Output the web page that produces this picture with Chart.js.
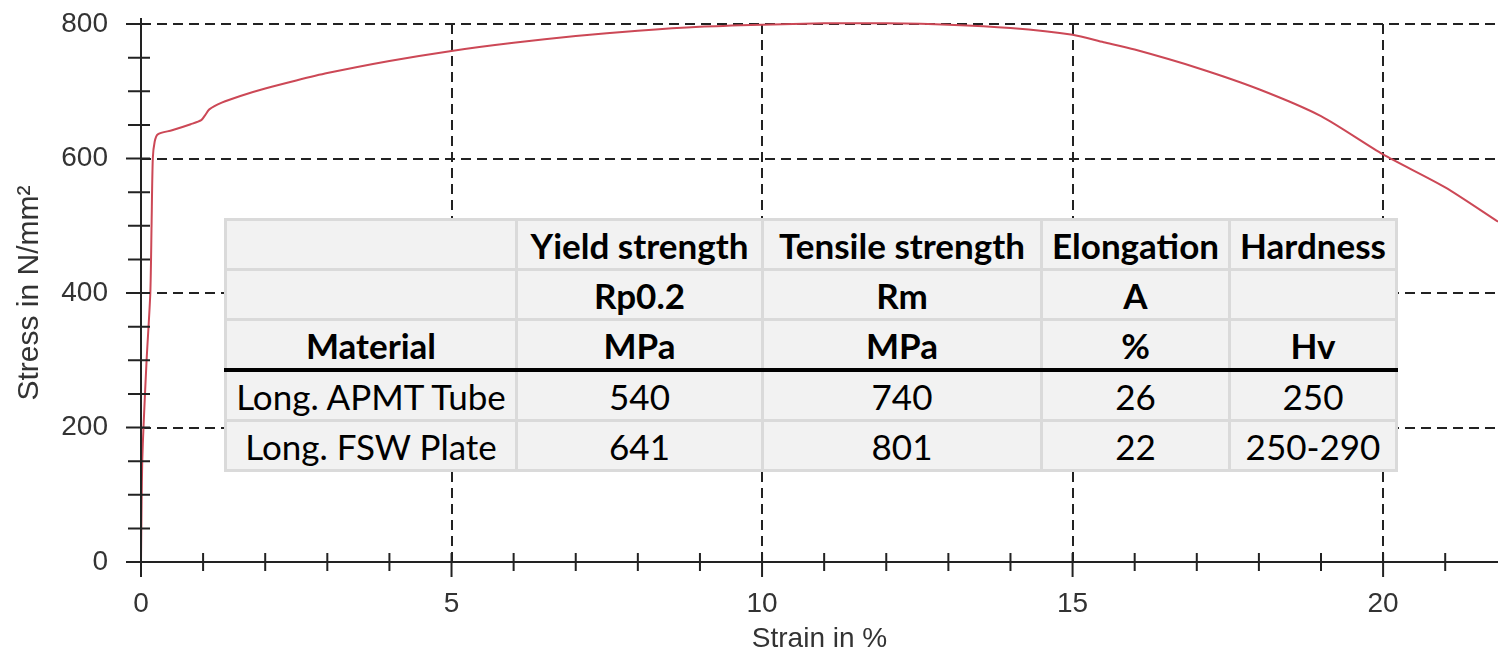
<!DOCTYPE html>
<html>
<head>
<meta charset="utf-8">
<script src="https://cdn.jsdelivr.net/npm/chart.js@4.4.0/dist/chart.umd.min.js"></script>
<style>
  html, body { margin: 0; padding: 0; background: #fff; }
  #wrap { position: relative; width: 1498px; height: 656px; }
  #props {
    position: absolute; left: 224px; top: 218px;
    border-collapse: collapse; background: #f2f2f2;
    font-family: Lato, "Open Sans", sans-serif; font-size: 35px; color: #000;
  }
  #props td { border: 3px solid #dadada; padding: 0; height: 47px; text-align: center; line-height: 44px; white-space: nowrap; }
  #props tr.head td { font-weight: bold; }
  #props tr.last-head td { border-bottom: 4px solid #000; }
</style>
</head>
<body>
<div id="wrap">
  <canvas id="stressChart" width="1498" height="656"></canvas>
  <table id="props"></table>
</div>
<script>
// ========== data ==========
const strain = [0, 0.01, 0.02, 0.04, 0.09, 0.15, 0.17, 0.19, 0.22, 0.27, 0.5, 0.8, 0.97, 1.03, 1.1, 1.3, 1.6, 2.0, 2.5, 3.0,
  4.0, 5.0, 6.0, 7.0, 8.0, 9.0, 10.0, 11.0, 12.0, 13.0, 14.0, 15.0, 15.5, 16.0, 17.0, 18.0, 19.0, 20.0, 21.0, 21.85];
const stress = [0, 90, 150, 200, 300, 400, 500, 600, 625, 636, 642, 651, 657, 664, 673, 683, 693, 704, 716, 727,
  745, 760, 772, 782, 790, 796, 799, 801, 801, 799, 794, 784, 773, 762, 735, 703, 663, 606, 557, 506];

const xMajor = [0, 5, 10, 15, 20];
const yMajor = [0, 200, 400, 600, 800];

// table overlay
const colWidths = [291, 246, 279, 188, 167];
const headRow1 = ['', 'Yield strength', 'Tensile strength', 'Elongation', 'Hardness'];
const headRow2 = ['', 'Rp0.2', 'Rm', 'A', ''];
const headRow3 = ['Material', 'MPa', 'MPa', '%', 'Hv'];
const materials = ['Long. APMT Tube', 'Long. FSW Plate'];
const yieldVals = ['540', '641'];
const tensileVals = ['740', '801'];
const elongVals = ['26', '22'];
const hardVals = ['250', '250-290'];

// ========== build table ==========
function buildTable() {
  const tbl = document.getElementById('props');
  const rows = [headRow1, headRow2, headRow3];
  let html = '<colgroup>' + colWidths.map(w => `<col style="width:${w}px">`).join('') + '</colgroup>';
  rows.forEach((r, i) => {
    html += `<tr class="head${i === 2 ? ' last-head' : ''}">` + r.map(c => `<td>${c}</td>`).join('') + '</tr>';
  });
  materials.forEach((m, i) => {
    html += '<tr>' + [m, yieldVals[i], tensileVals[i], elongVals[i], hardVals[i]].map(c => `<td>${c}</td>`).join('') + '</tr>';
  });
  tbl.innerHTML = html;
}
buildTable();

// ========== solid axes + crossing tick marks ==========
const crossTicks = {
  id: 'crossTicks',
  afterDraw(chart) {
    const { ctx, chartArea, scales: { x, y } } = chart;
    const x0 = x.getPixelForValue(0);
    const y0 = y.getPixelForValue(0);
    ctx.save();
    ctx.strokeStyle = '#222';
    ctx.lineWidth = 2;
    ctx.setLineDash([]);
    ctx.beginPath();
    // axis lines
    ctx.moveTo(x0, chartArea.top - 6);
    ctx.lineTo(x0, y0);
    ctx.moveTo(x0, y0);
    ctx.lineTo(chartArea.right, y0);
    for (let v = 0; v <= 800; v += 50) {
      const py = y.getPixelForValue(v);
      const major = v % 200 === 0;
      ctx.moveTo(x0 - (major ? 15 : 13), py);
      ctx.lineTo(x0 + 9, py);
    }
    for (let v = 0; v <= 21; v += 1) {
      const px = x.getPixelForValue(v);
      const major = v % 5 === 0;
      ctx.moveTo(px, y0 - 9);
      ctx.lineTo(px, y0 + (major ? 15 : 9));
    }
    ctx.stroke();
    ctx.restore();
  }
};

const gridColor = (c, majors) =>
  (c.tick && majors.includes(c.tick.value) && c.tick.value !== 0) ? '#222' : 'rgba(0,0,0,0)';

const axisFont = size => ({ family: '"Liberation Sans", Arial, sans-serif', size: size });

const ctx = document.getElementById('stressChart').getContext('2d');
new Chart(ctx, {
  type: 'line',
  data: {
    datasets: [{
      label: 'Stress',
      data: strain.map((s, i) => ({ x: s, y: stress[i] })),
      borderColor: 'rgb(204, 72, 86)',
      borderWidth: 2,
      pointRadius: 0,
      tension: 0.25,
      fill: false,
      clip: false
    }]
  },
  options: {
    responsive: false,
    animation: false,
    layout: { padding: { left: 0, top: 24, right: 0, bottom: 0 } },
    plugins: { legend: { display: false }, tooltip: { enabled: false }, title: { display: false } },
    scales: {
      x: {
        type: 'linear', min: 0, max: 21.85,
        afterFit: s => { s.height = 94; s.paddingLeft = 0; s.paddingRight = 0; },
        border: { display: false, dash: [10, 6] },
        grid: {
          drawTicks: false, lineWidth: 2,
          color: c => gridColor(c, xMajor)
        },
        ticks: {
          stepSize: 1, autoSkip: false, padding: 25, maxRotation: 0,
          color: '#333', font: axisFont(28),
          callback: v => xMajor.includes(v) ? String(v) : ''
        },
        title: {
          display: true, text: 'Strain in %', color: '#333',
          font: axisFont(28),
          padding: { top: 0, bottom: 0 }
        }
      },
      y: {
        type: 'linear', min: 0, max: 800,
        afterFit: s => { s.width = 141; s.paddingTop = 0; s.paddingBottom = 0; },
        border: { display: false, dash: [10, 6] },
        grid: {
          drawTicks: false, lineWidth: 2,
          color: c => gridColor(c, yMajor)
        },
        ticks: {
          stepSize: 50, autoSkip: false, padding: 33,
          color: '#333', font: axisFont(28),
          callback: v => yMajor.includes(v) ? String(v) : ''
        },
        title: {
          display: true, text: 'Stress in N/mm²', color: '#333',
          font: axisFont(30),
          padding: { top: 12, bottom: 0 }
        }
      }
    }
  },
  plugins: [crossTicks]
});
</script>
</body>
</html>
